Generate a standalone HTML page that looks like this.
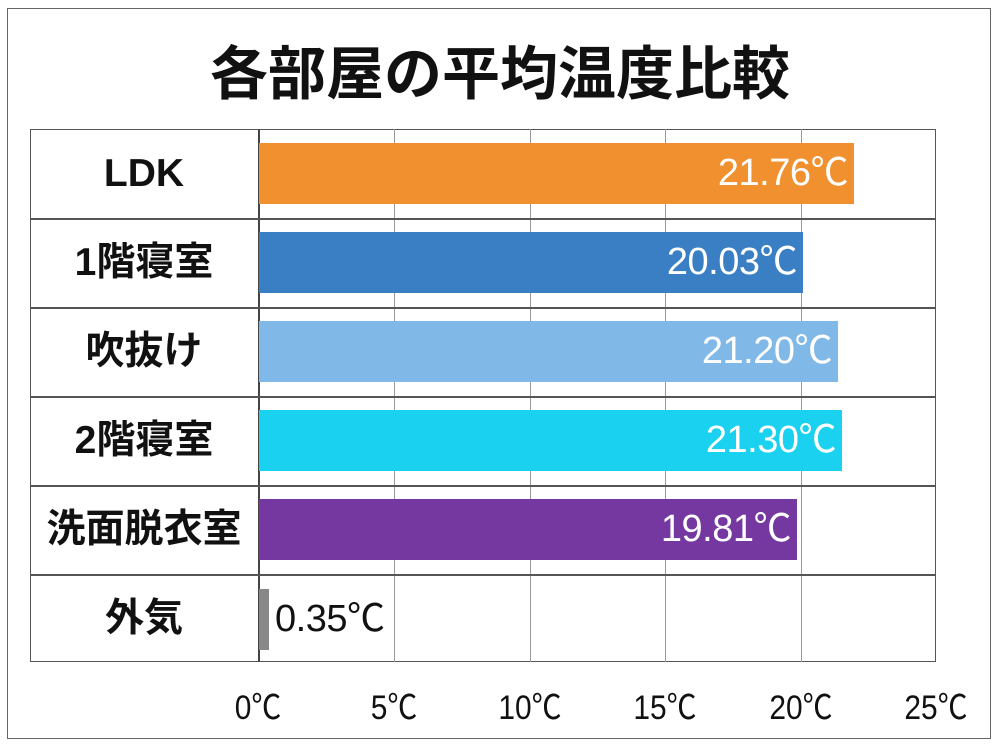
<!DOCTYPE html>
<html><head><meta charset="utf-8"><style>
body{margin:0;width:1000px;height:747px;background:#fff;position:relative;overflow:hidden;font-family:"Liberation Sans","Noto Sans CJK JP",sans-serif}
.a{position:absolute}
.frame{left:7px;top:8px;width:984px;height:731px;border:1.5px solid #666;box-sizing:border-box}
.title{left:0;width:1000px;top:40px;text-align:center;font-size:58px;font-weight:bold;color:#111;line-height:70px}
.lab{left:30px;width:228px;text-align:center;font-size:39px;font-weight:bold;color:#111;line-height:89px}
.hl{left:30px;width:906px;height:1.5px;background:#555}
.vl{top:129px;height:533px;width:1px;background:#999}
.bar{left:259px;height:61px}
.val{color:#fff;font-size:38px;text-align:right;line-height:61px;padding-right:6px;box-sizing:border-box;letter-spacing:-0.5px}
.tick{top:680px;font-size:34px;color:#111;width:100px;text-align:center;transform:scaleX(0.88)}
</style></head><body>
<div class="a frame"></div>
<div class="a title">各部屋の平均温度比較</div>
<div class="a" style="left:30px;top:129px;width:906px;height:533px;border:1.5px solid #555;box-sizing:border-box"></div>
<div class="a vl" style="left:394px"></div>
<div class="a vl" style="left:530px"></div>
<div class="a vl" style="left:665px"></div>
<div class="a vl" style="left:801px"></div>
<div class="a" style="left:258px;top:129px;width:1.5px;height:533px;background:#444"></div>
<div class="a hl" style="top:218px"></div>
<div class="a hl" style="top:307px"></div>
<div class="a hl" style="top:396px"></div>
<div class="a hl" style="top:485px"></div>
<div class="a hl" style="top:574px"></div>
<div class="a lab" style="top:129px">LDK</div>
<div class="a lab" style="top:218px">1階寝室</div>
<div class="a lab" style="top:307px">吹抜け</div>
<div class="a lab" style="top:396px">2階寝室</div>
<div class="a lab" style="top:485px">洗面脱衣室</div>
<div class="a lab" style="top:574px">外気</div>
<div class="a bar val" style="top:143px;width:595px;background:#f0902f">21.76℃</div>
<div class="a bar val" style="top:232px;width:544px;background:#3a7fc4">20.03℃</div>
<div class="a bar val" style="top:321px;width:579px;background:#80b8e8">21.20℃</div>
<div class="a bar val" style="top:410px;width:583px;background:#1ad2ef">21.30℃</div>
<div class="a bar val" style="top:499px;width:538px;background:#7438a0">19.81℃</div>
<div class="a" style="left:259px;top:589px;width:10px;height:61px;background:#888"></div>
<div class="a" style="left:275px;top:589px;line-height:61px;font-size:38px;color:#111;letter-spacing:-0.5px">0.35℃</div>
<div class="a tick" style="left:208px">0℃</div>
<div class="a tick" style="left:344px">5℃</div>
<div class="a tick" style="left:480px">10℃</div>
<div class="a tick" style="left:615px">15℃</div>
<div class="a tick" style="left:751px">20℃</div>
<div class="a tick" style="left:886px">25℃</div>
</body></html>
